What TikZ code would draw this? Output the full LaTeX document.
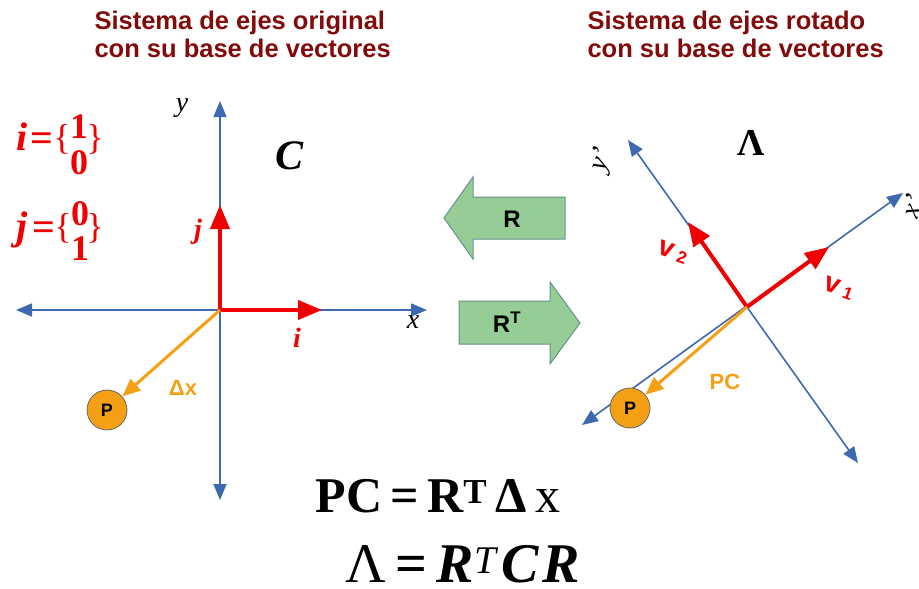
\documentclass[tikz,border=0pt]{standalone}
\usepackage{fontspec}
\setmainfont{Liberation Serif}
\setsansfont{Liberation Sans}
\usetikzlibrary{arrows.meta}
\definecolor{axisblue}{RGB}{60,105,175}
\definecolor{vred}{RGB}{240,0,0}
\definecolor{orng}{RGB}{245,160,20}
\definecolor{hdr}{RGB}{130,10,10}
\definecolor{agreen}{RGB}{150,205,150}
\definecolor{aedge}{RGB}{100,145,140}
\begin{document}
\begin{tikzpicture}[x=1pt,y=-1pt,
  axisline/.style={draw=axisblue, line width=1.6pt, {Triangle[length=16pt,width=13pt]}-{Triangle[length=16pt,width=13pt]}},
  basevec/.style={draw=vred, line width=4pt, -{Triangle[length=24pt,width=19pt]}},
  posvec/.style={draw=orng, line width=3pt, -{Triangle[length=18pt,width=15pt]}},
  pnode/.style={circle, draw=gray!80!black, fill=orng, line width=0.8pt, minimum size=40pt, inner sep=0pt, font=\sffamily\bfseries\fontsize{18}{18}\selectfont},
  header/.style={anchor=west, align=left, text=hdr, font=\sffamily\bfseries\fontsize{25.5}{28}\selectfont},
  axlabel/.style={font=\itshape\fontsize{28}{28}\selectfont},
  redlbl/.style={text=vred, font=\bfseries\itshape\fontsize{28}{28}\selectfont},
  orlbl/.style={text=orng, font=\sffamily\bfseries\fontsize{22}{22}\selectfont},
  bigarrow/.style={fill=agreen, draw=aedge, line width=1pt},
  arrowtxt/.style={font=\sffamily\bfseries\fontsize{24}{24}\selectfont},
  vlbl/.style={text=vred, font=\sffamily\bfseries\fontsize{28}{28}\selectfont, rotate=-20},
  eqn/.style={font=\fontsize{50}{50}\selectfont},
  defsym/.style={text=vred, anchor=base, inner sep=0pt, font=\bfseries\fontsize{40}{40}\selectfont},
  defdig/.style={text=vred, anchor=base, inner sep=0pt, font=\bfseries\fontsize{36}{36}\selectfont},
  defbr/.style={text=vred, anchor=base, inner sep=0pt, font=\fontsize{36}{36}\selectfont}
]
\useasboundingbox (0,0) rectangle (919,589);

% headers
\node[header] (h1) at (91,34) {Sistema de ejes original\\con su base de vectores};
\node[header] (h2) at (584,34) {Sistema de ejes rotado\\con su base de vectores};

% left axes
\coordinate (O1) at (220,310);
\coordinate (L1) at (16,310);
\coordinate (R1) at (427,310);
\coordinate (T1) at (220,101);
\coordinate (B1) at (220,500);
\draw[axisline] (L1) -- (R1);
\draw[axisline] (B1) -- (T1);
\coordinate (Ji) at (322,310);
\coordinate (Jj) at (220,205);
\draw[basevec] (O1) -- (Ji);
\draw[basevec] (O1) -- (Jj);
\node[pnode] (P1) at (107,410) {P};
\draw[posvec] (O1) -- (P1);

\node[axlabel] (ylab) at (182,108) {y};
\node[axlabel] (xlab) at (413,322) {x};
\node[redlbl] (jlab) at (198,232) {j};
\node[redlbl] (ilab) at (297,338) {i};
\node[font=\bfseries\itshape\fontsize{42}{42}\selectfont] (Clab) at (290,156) {C};
\node[orlbl] (dx) at (183,388) {Δx};

% base vector definitions
\node[defsym] (isym) at (22,150) {\itshape i};
\node[defsym] (ieq) at (42,151) {=};
\node[defbr] (ibl) at (62,149) {\{};
\node[defdig] (i1) at (79,138) {1};
\node[defdig] (i0) at (79,174) {0};
\node[defbr] (ibr) at (95,149) {\}};

\node[defsym] (jsym) at (22,239) {\itshape j};
\node[defsym] (jeq) at (44,240) {=};
\node[defbr] (jbl) at (63,238) {\{};
\node[defdig] (j0) at (80,225) {0};
\node[defdig] (j1) at (80,260) {1};
\node[defbr] (jbr) at (95,238) {\}};

% transformation arrows
\draw[bigarrow] (444,218) -- (473,177) -- (473,197) -- (565,197) -- (565,239) -- (473,239) -- (473,259) -- cycle;
\node[arrowtxt] (Rtxt) at (512,219) {R};
\draw[bigarrow] (580,323) -- (550,282) -- (550,301) -- (459,301) -- (459,344) -- (550,344) -- (550,364) -- cycle;
\node[arrowtxt] (RTtxt) at (507,322) {R\textsuperscript{T}};

% right axes
\coordinate (O2) at (747,307);
\coordinate (XA) at (903,193);
\coordinate (XB) at (582,425);
\coordinate (YA) at (628,140);
\coordinate (YB) at (858,463);
\draw[axisline] (XB) -- (XA);
\draw[axisline] (YB) -- (YA);
\coordinate (V1) at (829,247);
\coordinate (V2) at (688,222);
\draw[basevec] (O2) -- (V1);
\draw[basevec] (O2) -- (V2);
\node[pnode] (P2) at (630,408) {P};
\draw[posvec] (O2) -- (P2);
\node[orlbl] (pc) at (725,382) {PC};
\node[font=\bfseries\fontsize{38}{38}\selectfont] (Lam) at (751,143) {Λ};
\node[vlbl] (v1) at (839,288) {v\,\raisebox{-1pt}{\fontsize{17}{17}\selectfont 1}};
\node[vlbl] (v2) at (673,252) {v\,\raisebox{-1pt}{\fontsize{17}{17}\selectfont 2}};
\node[axlabel, rotate=70] (yp) at (602,160) {y’};
\node[axlabel, rotate=70] (xp) at (912,206) {x’};

% equations
\node[eqn, anchor=west] (eq1) at (312,496) {\bfseries PC\,=\,R\textsuperscript{T}\,Δ\,\mdseries x};
\node[eqn, anchor=west, font=\fontsize{56}{56}\selectfont] (eq2) at (342,564) {Λ\,\bfseries=\,\itshape R\textsuperscript{\mdseries T}\kern5pt\relax C\kern4pt\relax R};
\end{tikzpicture}
\end{document}
